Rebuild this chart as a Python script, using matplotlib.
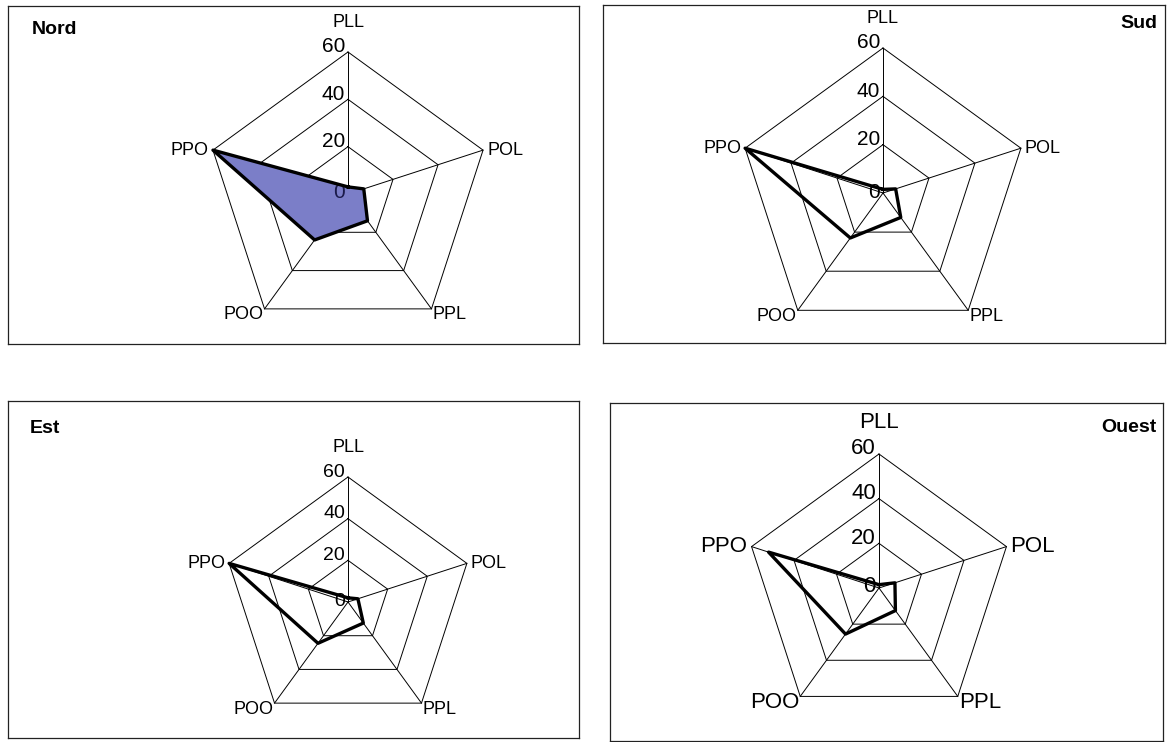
import numpy as np
import matplotlib
matplotlib.use('Agg')
import matplotlib.pyplot as plt

plt.rcParams['font.family'] = ['Liberation Sans', 'DejaVu Sans']

# data (scale 0-60)
categories = ['PLL', 'POL', 'PPL', 'POO', 'PPO']
ticks = [0, 20, 40, 60]
nord = [3, 7, 14, 24, 60]
sud = [1.5, 5.5, 12.5, 23, 60]
est = [2, 5, 12.5, 24.5, 60]
ouest = [1.5, 7.5, 12.5, 25.5, 52]

W, H = 1167, 742
fig = plt.figure(figsize=(W / 100, H / 100), dpi=100)

# panel layout in pixels: box (x0, y0, x1, y1), centre, radius, title pos
panels = [
    ('Nord', nord, (8, 6, 579, 344), (348, 194), 142, ('left', 24, 24), True, 13, 15),
    ('Sud', sud, (603, 5, 1165, 343), (883, 193), 145, ('right', 8, 18), False, 13, 15),
    ('Est', est, (8, 401, 579, 738), (348, 602), 125, ('left', 22, 27), False, 13, 14),
    ('Ouest', ouest, (610, 403, 1163, 741), (879, 588), 134, ('right', 6, 24), False, 16, 16),
]

angles = np.arange(len(categories)) * 2 * np.pi / len(categories)
closed = np.append(angles, angles[0])
PX = 72 / 100  # pixels -> points


def box_axes(x0, y0, x1, y1):
    ax = fig.add_axes([x0 / W, 1 - y1 / H, (x1 - x0) / W, (y1 - y0) / H])
    ax.set_xticks([])
    ax.set_yticks([])
    for s in ax.spines.values():
        s.set_linewidth(0.9)
        s.set_color('#222222')
    return ax


for name, vals, box, (cx, cy), R, (side, tx, ty), filled, lab_fs, tick_fs in panels:
    bw, bh = box[2] - box[0], box[3] - box[1]
    bax = box_axes(*box)
    if side == 'left':
        bax.text(tx / bw, 1 - ty / bh, name, transform=bax.transAxes,
                 ha='left', va='center', fontsize=14, fontweight='bold')
    else:
        bax.text(1 - tx / bw, 1 - ty / bh, name, transform=bax.transAxes,
                 ha='right', va='center', fontsize=14, fontweight='bold')

    ax = fig.add_axes([(cx - R) / W, 1 - (cy + R) / H, 2 * R / W, 2 * R / H],
                      projection='polar')
    ax.set_theta_zero_location('N')
    ax.set_theta_direction(-1)
    ax.set_ylim(0, 60)
    ax.axis('off')

    # pentagon grid and spokes
    for t in ticks[1:]:
        ax.plot(closed, [t] * len(closed), color='black', lw=0.7, clip_on=False)
    for a in angles:
        ax.plot([a, a], [0, 60], color='black', lw=0.7, clip_on=False)

    # series
    v = np.append(vals, vals[0])
    if filled:
        ax.fill(closed, v, color='#7b7ec8', zorder=3)
    ax.plot(closed, v, color='black', lw=2.4, zorder=4, clip_on=False)

    # value labels along the PLL spoke
    for t in ticks:
        dy = 1 if t == 0 else 5
        ax.annotate(str(t), (0, t), xytext=(-3 * PX, dy * PX),
                    textcoords='offset points', ha='right', va='center',
                    fontsize=tick_fs, zorder=3.5,
                    color='#1a1a4a' if (filled and t == 0) else 'black')

    # category labels
    offs = [((0, 21), 'center', 'bottom'),
            ((4, 0), 'left', 'center'),
            ((1, -6), 'left', 'center'),
            ((-1, -6), 'right', 'center'),
            ((-4, 0), 'right', 'center')]
    for a, c, ((dx, dy), ha, va) in zip(angles, categories, offs):
        ax.annotate(c, (a, 60), xytext=(dx * PX, dy * PX),
                    textcoords='offset points', ha=ha, va=va,
                    fontsize=lab_fs)

fig.savefig('out.png', dpi=100)
